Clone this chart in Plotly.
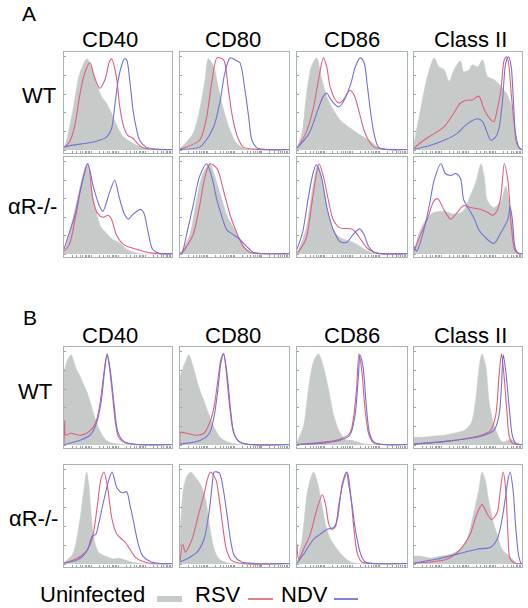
import math
import plotly.graph_objects as go

# ---------------- data (x: % of log-fluorescence axis, y: % of max count) ----------------
COLUMNS = ["CD40", "CD80", "CD86", "Class II"]
ROWS = ["WT", "αR-/-"]
BLOCKS = ["A", "B"]
SERIES = ["Uninfected", "RSV", "NDV"]

# Block A, WT
A_WT_CD40_UNINF = [(0,2),(2,8),(8.3,41),(14.5,78),(21.3,93),(25.3,85),(30,68),(34.6,55),(39.2,48),(43.8,38),(48.5,26),(54.6,14),(60.8,9),(67,5),(76,2),(88.6,0.3),(100,0)]
A_WT_CD40_RSV = [(0,3),(5,8),(10,25),(14.5,55),(19,78),(24,89),(28,75),(33,63),(38,72),(42,90),(44,93),(48.5,75),(51.5,45),(55,25),(59,15),(64,12),(67,8),(72,3),(79,1),(100,0.5)]
A_WT_CD40_NDV = [(0,3),(8,5),(21,7),(30,9),(39,13),(44,22),(47,45),(50,70),(53,85),(56,93),(58,92),(61,70),(64,40),(67,22),(70,10),(76,3),(86,1),(100,0.5)]

A_WT_CD80_UNINF = [(0,1),(1.5,3),(12,17),(18,41),(23,72),(26,93),(31,85),(35,65),(40,41),(46,20),(52,7),(58,2),(67,0.3),(100,0)]
A_WT_CD80_RSV = [(0,1),(3,2),(18,10),(24,31),(29,68),(34,94),(40,92),(44,65),(47,41),(50,24),(54,10),(58,3),(67,1),(100,0.5)]
A_WT_CD80_NDV = [(0,0.5),(18,3),(24,10),(31,24),(37,51),(41,78),(46,94),(52,91),(55,89),(60,58),(63,34),(66,10),(71,2),(80,0.5),(100,0.5)]

A_WT_CD86_UNINF = [(0,1),(0.6,3),(5,20),(8,51),(13,85),(18,94),(22,75),(27,55),(33,41),(39,31),(49,22),(58,15),(67,9),(73,3),(79,1),(100,0)]
A_WT_CD86_RSV = [(0,2),(0.6,3),(8,17),(14.5,41),(19,68),(24,94),(27,85),(30,65),(35,51),(38,48),(42,51),(48,61),(52,56),(56,41),(61,20),(65,10),(70,3),(79,1),(100,0.5)]
A_WT_CD86_NDV = [(0,2),(11,17),(19,41),(24,55),(27,58),(31,51),(38,44),(42,49),(49,68),(53,85),(57.5,94),(61,89),(64,65),(67,38),(70,17),(74,3),(82,0.5),(100,0.5)]

A_WT_CL2_UNINF = [(0,7),(6,41),(12.4,75),(18.6,94),(23,85),(28,82),(32.5,70),(37,82),(43,91),(46,80),(51,82),(54,87),(59,85),(63.5,92),(68,75),(74,72),(80.5,65),(87,55),(91,41),(94,10),(97.5,1),(100,0)]
A_WT_CL2_RSV = [(0,2),(9,10),(19,17),(28,24),(37,38),(43,48),(49.5,51),(54,51),(60,55),(65,41),(71,31),(74,29),(77,41),(80.5,61),(83.6,92),(86,95),(88,85),(90,58),(93,24),(95,7),(99,1),(100,0.5)]
A_WT_CL2_NDV = [(0,1),(15.5,5),(28,10),(40,17),(49.5,27),(59,32),(63.5,29),(68,17),(71,10),(76,14),(79,24),(82,51),(85,89),(87.6,95),(90,85),(92,51),(94,17),(97.5,2),(100,0.5)]

# Block A, alphaR-/-
A_KO_CD40_UNINF = [(0,2),(2,8),(8,35),(14.5,68),(19,88),(21,93),(25,70),(30,42),(34.6,27),(39,22),(45,15),(51,12),(58,5),(64,2),(73,0.3),(100,0)]
A_KO_CD40_RSV = [(0,3),(5,10),(11,40),(16,70),(22,93),(27,55),(31,42),(36,38),(41,40),(44,36),(48.5,20),(55,10),(61,7),(67,5),(73,3),(82,1),(100,0.5)]
A_KO_CD40_NDV = [(0,5),(4,19),(10,40),(16,70),(22,93),(27,70),(33,49),(36,44),(42,63),(47,76),(51,59),(56,41),(59.6,36),(64,41),(71,46),(74,42),(78,22),(82,5),(88.6,0.5),(100,0.5)]

A_KO_CD80_UNINF = [(0,1),(1.5,3),(9,20),(15,55),(20,80),(24.5,90),(27.5,93),(32,80),(37,62),(43,40),(49,27),(55,15),(61,5),(67,1),(100,0)]
A_KO_CD80_RSV = [(0,1),(1.5,1),(12,20),(18,50),(23,80),(27.5,93),(34,88),(40,65),(46,40),(52,22),(58,8),(64,2),(73,0.5),(100,0.5)]
A_KO_CD80_NDV = [(0,0),(1.5,0),(6,20),(12,50),(18,80),(24.5,93),(29,80),(34,55),(38,40),(43,25),(49,20),(55,15),(61,8),(67,2),(76,0.5),(100,0.5)]

A_KO_CD86_UNINF = [(0,1),(0.6,2),(8,25),(14.5,70),(19,92),(24,70),(28.6,40),(33,25),(39,17),(49,13),(55,10),(61,5),(67,2),(73,0.5),(100,0)]
A_KO_CD86_RSV = [(0,2),(0.6,2),(8,15),(14.5,60),(20,93),(24,80),(28.6,55),(33,35),(39,27),(49,26),(53,23),(58,15),(64,6),(70,2),(76,0.5),(100,0.5)]
A_KO_CD86_NDV = [(0,5),(5,22),(10,56),(14.5,83),(17.5,92),(22,80),(27,49),(33,25),(39,13),(45,12),(51,20),(57,26),(61,20),(65,8),(70,2),(76,0.5),(100,0.5)]

A_KO_CL2_UNINF = [(0,3),(6,25),(12,37),(18.6,43),(28,44),(37,41),(46,45),(52,60),(57,73),(62,93),(65,80),(68,55),(74,48),(80.5,55),(85,70),(88,55),(91,30),(94,5),(97.5,0.5),(100,0)]
A_KO_CL2_RSV = [(0,3),(6,20),(12,35),(18.6,55),(22,57),(28,45),(34,36),(40,43),(46,50),(52,48),(62,46),(68,43),(73,40),(77,45),(80.5,60),(83.6,93),(87,75),(90,30),(93,5),(96,0.5),(100,0.5)]
A_KO_CL2_NDV = [(0,8),(2.5,3),(8,20),(14,49),(18.6,76),(25,93),(29,83),(34,81),(38.7,83),(43,78),(46,56),(51,46),(56,36),(60,25),(68,15),(74,11),(80.5,22),(87,36),(89,49),(91,36),(94,5),(97.5,0.5),(100,0.5)]

# Block B, WT
B_WT_CD40_UNINF = [(0,75),(3,86),(6.6,92),(10,82),(12,76),(15,70),(18,62),(21,55),(24,45),(28,30),(33,15),(39,5),(45,2),(55,0.5),(100,0)]
B_WT_CD40_RSV = [(0,2),(0.6,25),(1.5,10),(6,12),(15,10),(21,12),(27,18),(30,25),(33,40),(36,65),(38.4,85),(40,92),(42,80),(45,50),(48,20),(51,7),(57,2),(69,0.5),(100,0.5)]
B_WT_CD40_NDV = [(0,0.5),(15,5),(24,10),(30,22),(34.5,45),(37.5,75),(40,93),(43,75),(46.5,40),(49.5,15),(54,5),(63,1),(100,0.5)]

B_WT_CD80_UNINF = [(0,70),(1.5,75),(5,85),(8,92),(12.6,78),(17,60),(22,45),(27,30),(31.4,18),(37.7,7),(47,2),(56.6,0.5),(100,0)]
B_WT_CD80_RSV = [(0,2),(0.6,13),(6,12),(15.7,10),(22,12),(28,25),(31.4,40),(34.6,65),(37.7,88),(40,93),(42,80),(45,45),(48.7,15),(53.5,4),(63,0.5),(100,0.5)]
B_WT_CD80_NDV = [(0,1),(19,5),(27,12),(31.4,30),(34.6,55),(37.7,85),(40,93),(43.4,70),(46.5,35),(50,10),(56.6,2),(69,0.5),(100,0.5)]

B_WT_CD86_UNINF = [(0,3),(6,20),(10.7,60),(15,85),(19.5,93),(24,80),(29,55),(33.5,30),(38,15),(42.7,7),(45.7,5),(50,5),(55,3),(61,1),(70,0.5),(100,0)]
B_WT_CD86_RSV = [(0,0.5),(24,3),(39,6),(48,12),(51,25),(54,55),(56.4,93),(59,75),(62,35),(65.5,10),(70,2),(79,0.5),(100,0.5)]
B_WT_CD86_NDV = [(0,0.5),(24,2),(39,5),(48,10),(52.7,30),(55.8,70),(57.3,92),(60,80),(63,40),(66,12),(70,3),(79,0.5),(100,0.5)]

B_WT_CL2_UNINF = [(0,8),(7,8),(16,9),(28,10),(40.5,13),(46.6,15),(52.7,22),(57,45),(61,85),(63,93),(66.5,80),(69.5,45),(74,20),(77,12),(80,5),(83,3),(89,6),(95,2),(98.5,0.5),(100,0)]
B_WT_CL2_RSV = [(0,1),(31.7,4),(62,10),(71,15),(75.6,30),(78.7,70),(81,93),(83,75),(86,35),(88,10),(91,2),(95,0.5),(100,0.5)]
B_WT_CL2_NDV = [(0,1),(31.7,4),(62,9),(74,15),(78.7,30),(81,60),(82.6,92),(85,75),(88,40),(91,10),(94,2),(98.5,0.5),(100,0.5)]

# Block B, alphaR-/-
B_KO_CD40_UNINF = [(0,1),(0.6,2),(8,10),(14,40),(19,80),(21,93),(23,80),(26,40),(29,20),(32,12),(38.5,8),(46,5),(50.6,6),(56.7,4),(62.7,2),(72,0.5),(100,0)]
B_KO_CD40_RSV = [(0,1),(11,5),(20,12),(26,25),(31,60),(34,85),(37,93),(40,80),(44.5,45),(49,30),(53.6,25),(56.7,22),(61,15),(66,7),(72,3),(81,0.5),(100,0.5)]
B_KO_CD40_NDV = [(0,1),(14,5),(22,15),(26,28),(29.4,30),(32,40),(37,65),(41.5,85),(44.5,93),(49,77),(53.6,72),(58,73),(61,60),(64,45),(68.8,20),(73,8),(81,2),(90,0.5),(100,0.5)]

B_KO_CD80_UNINF = [(0,30),(3,75),(6,88),(10,93),(14,88),(19,80),(23.6,65),(27,40),(31.4,15),(36,5),(44,1),(56.6,0.5),(100,0)]
B_KO_CD80_RSV = [(0,2),(2.5,20),(5,12),(11,25),(17,50),(22,70),(25,85),(28,93),(33,85),(36,65),(39,40),(42.5,15),(47,4),(56.6,0.5),(100,0.5)]
B_KO_CD80_NDV = [(0,2),(6,5),(15.7,12),(22,25),(27,55),(30,85),(31.4,93),(36,92),(39,80),(42.5,55),(47,20),(50,8),(56.6,2),(69,0.5),(100,0.5)]

B_KO_CD86_UNINF = [(0,1),(4.6,25),(9,70),(12,85),(15,93),(18,85),(21,70),(26,40),(30.5,25),(36.6,15),(42.7,7),(48.8,2),(58,0.5),(100,0)]
B_KO_CD86_RSV = [(0,20),(1.5,5),(6,15),(12,30),(18,55),(23,70),(26,60),(29,40),(32,35),(35,38),(38,60),(42.7,85),(45.7,93),(48.8,70),(51.8,35),(55,10),(59,2),(67,0.5),(100,0.5)]
B_KO_CD86_NDV = [(0,1),(6,10),(15,25),(21,30),(27.4,35),(33.5,37),(36.6,45),(41,80),(45,93),(47,80),(50,60),(53,35),(57.9,10),(62,2),(70,0.5),(100,0.5)]

B_KO_CL2_UNINF = [(0,8),(6,8),(15,6),(24.6,8),(34,10),(43,15),(49,25),(55,50),(60,75),(63,93),(66,85),(69,65),(74,40),(77,30),(81.5,15),(86,10),(91,5),(95,1),(100,0)]
B_KO_CL2_RSV = [(0,1),(15,2),(31,5),(43,15),(52,30),(58,50),(63,60),(68,50),(72,45),(77,52),(80,75),(82.5,93),(85,75),(87,30),(89,5),(94,0.5),(100,0.5)]
B_KO_CL2_NDV = [(0,1),(21.5,5),(40,10),(58,15),(71,17),(77,25),(81.5,45),(85,70),(87,85),(89,93),(91.7,75),(94,40),(97,8),(99.4,0.5),(100,0.5)]

PANEL_DATA = {
    ("A", 0): [(A_WT_CD40_UNINF, A_WT_CD40_RSV, A_WT_CD40_NDV), (A_WT_CD80_UNINF, A_WT_CD80_RSV, A_WT_CD80_NDV),
               (A_WT_CD86_UNINF, A_WT_CD86_RSV, A_WT_CD86_NDV), (A_WT_CL2_UNINF, A_WT_CL2_RSV, A_WT_CL2_NDV)],
    ("A", 1): [(A_KO_CD40_UNINF, A_KO_CD40_RSV, A_KO_CD40_NDV), (A_KO_CD80_UNINF, A_KO_CD80_RSV, A_KO_CD80_NDV),
               (A_KO_CD86_UNINF, A_KO_CD86_RSV, A_KO_CD86_NDV), (A_KO_CL2_UNINF, A_KO_CL2_RSV, A_KO_CL2_NDV)],
    ("B", 0): [(B_WT_CD40_UNINF, B_WT_CD40_RSV, B_WT_CD40_NDV), (B_WT_CD80_UNINF, B_WT_CD80_RSV, B_WT_CD80_NDV),
               (B_WT_CD86_UNINF, B_WT_CD86_RSV, B_WT_CD86_NDV), (B_WT_CL2_UNINF, B_WT_CL2_RSV, B_WT_CL2_NDV)],
    ("B", 1): [(B_KO_CD40_UNINF, B_KO_CD40_RSV, B_KO_CD40_NDV), (B_KO_CD80_UNINF, B_KO_CD80_RSV, B_KO_CD80_NDV),
               (B_KO_CD86_UNINF, B_KO_CD86_RSV, B_KO_CD86_NDV), (B_KO_CL2_UNINF, B_KO_CL2_RSV, B_KO_CL2_NDV)],
}

# ---------------- layout / style ----------------
W, H = 528, 608
FONT = "Liberation Sans, Arial, sans-serif"
GRAY = "#c6cbc9"
RED = "#e0607c"
BLUE = "#7272d8"
FRAME = "#a9b3b1"

COL_PX = [(64, 172), (180, 289), (297, 407), (414, 522)]
ROW_PX = {("A", 0): (52, 153), ("A", 1): (157, 257), ("B", 0): (347, 448), ("B", 1): (465, 567)}

def px_x(v):
    return v / W

def px_y(v):
    return 1 - v / H

xticks = [25 * (d + math.log10(k)) for d in range(4) for k in range(1, 10)] + [100]
yticks = [0, 19, 38, 57, 76, 95]

fig = go.Figure()
layout_axes = {}
k = 0
for blk in BLOCKS:
    for r in range(2):
        y0, y1 = ROW_PX[(blk, r)]
        for c in range(4):
            k += 1
            xa = "x" if k == 1 else f"x{k}"
            ya = "y" if k == 1 else f"y{k}"
            un, rsv, ndv = PANEL_DATA[(blk, r)][c]
            fig.add_trace(go.Scatter(x=[p[0] for p in un], y=[p[1] for p in un], mode="lines",
                                     line=dict(color=GRAY, width=0.5, shape="spline", smoothing=0.8),
                                     fill="tozeroy", fillcolor=GRAY, xaxis=xa, yaxis=ya,
                                     showlegend=False, hoverinfo="skip"))
            fig.add_trace(go.Scatter(x=[p[0] for p in rsv], y=[p[1] for p in rsv], mode="lines",
                                     line=dict(color=RED, width=1.1, shape="spline", smoothing=0.8),
                                     xaxis=xa, yaxis=ya, showlegend=False, hoverinfo="skip"))
            fig.add_trace(go.Scatter(x=[p[0] for p in ndv], y=[p[1] for p in ndv], mode="lines",
                                     line=dict(color=BLUE, width=1.1, shape="spline", smoothing=0.8),
                                     xaxis=xa, yaxis=ya, showlegend=False, hoverinfo="skip"))
            x0, x1 = COL_PX[c]
            suffix = "" if k == 1 else str(k)
            layout_axes["xaxis" + suffix] = dict(
                domain=[px_x(x0), px_x(x1)], anchor=ya, range=[0, 100], showgrid=False, zeroline=False,
                showline=True, mirror=True, linecolor=FRAME, linewidth=1, ticks="inside", ticklen=2,
                tickcolor="#9aa3a1", tickwidth=1, tickvals=xticks, showticklabels=False, fixedrange=True)
            layout_axes["yaxis" + suffix] = dict(
                domain=[px_y(y1), px_y(y0)], anchor=xa, range=[-3, 100], showgrid=False, zeroline=False,
                showline=True, mirror=True, linecolor=FRAME, linewidth=1, ticks="inside", ticklen=2,
                tickcolor="#9aa3a1", tickwidth=1, tickvals=yticks, showticklabels=False, fixedrange=True)

annotations = []

def txt(s, x, y, size=22):
    annotations.append(dict(text=s, x=px_x(x), y=px_y(y), xref="paper", yref="paper",
                            xanchor="center", yanchor="middle", showarrow=False, borderpad=0,
                            font=dict(family=FONT, size=size, color="black")))

txt("A", 29, 14, 21)
txt("B", 30, 317, 21)
for blk, ty in (("A", 40), ("B", 335)):
    for c, name in enumerate(COLUMNS):
        cx = [110, 233, 352, 470][c]
        txt(name, cx, ty, 22)
txt(ROWS[0], 39, 95, 22)
txt(ROWS[1], 32, 206, 22)
txt(ROWS[0], 35, 391, 22)
txt(ROWS[1], 33, 518, 22)

# legend (text precedes its key, as in the original)
txt(SERIES[0], 92, 594, 22)
txt(SERIES[1], 218, 594, 22)
txt(SERIES[2], 304, 594, 22)
shapes = [
    dict(type="rect", xref="paper", yref="paper", x0=px_x(157), x1=px_x(182), y0=px_y(602), y1=px_y(596),
         fillcolor=GRAY, line=dict(width=0)),
    dict(type="line", xref="paper", yref="paper", x0=px_x(248), x1=px_x(273), y0=px_y(599), y1=px_y(599),
         line=dict(color="#d85a5a", width=1.5)),
    dict(type="line", xref="paper", yref="paper", x0=px_x(334), x1=px_x(358), y0=px_y(599), y1=px_y(599),
         line=dict(color="#5a5ac8", width=1.5)),
]

fig.update_layout(width=W, height=H, margin=dict(l=0, r=0, t=0, b=0), paper_bgcolor="white",
                  plot_bgcolor="white", showlegend=False, annotations=annotations, shapes=shapes,
                  font=dict(family=FONT), **layout_axes)

fig.write_html("out.html", config={"displayModeBar": False})

# remove the browser's default page margin so the figure sits at the window's top-left corner
with open("out.html", "r", encoding="utf-8") as f:
    page = f.read()
page = page.replace("<head>", "<head><style>html,body{margin:0;padding:0;overflow:hidden;}</style>", 1)
with open("out.html", "w", encoding="utf-8") as f:
    f.write(page)
